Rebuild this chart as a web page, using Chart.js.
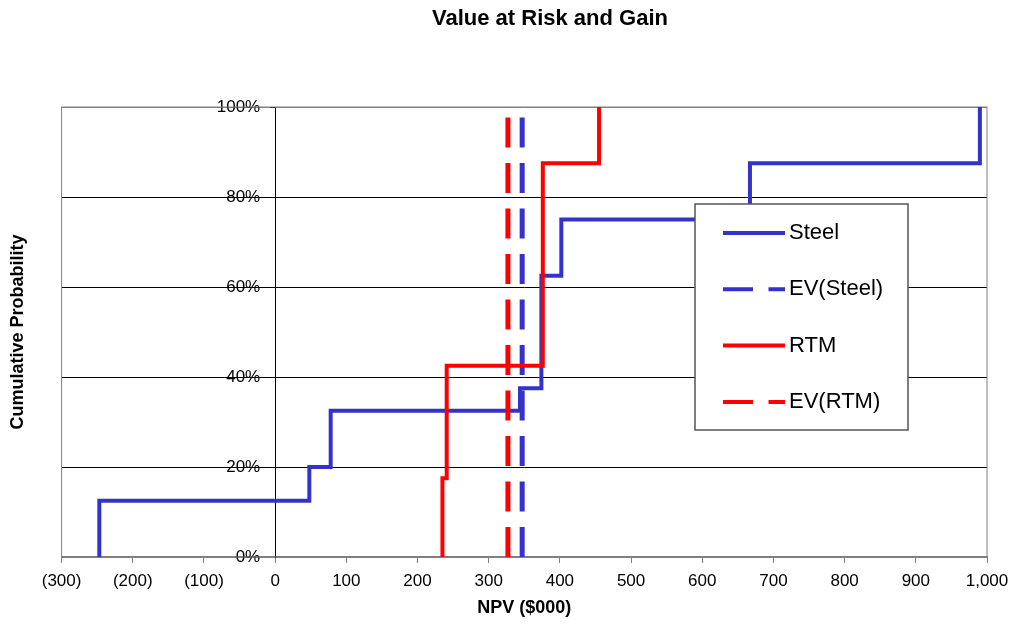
<!DOCTYPE html>
<html>
<head>
<meta charset="utf-8">
<title>Value at Risk and Gain</title>
<script src="https://cdn.jsdelivr.net/npm/chart.js@4.4.1/dist/chart.umd.min.js"></script>
<style>
  body { margin: 0; background: #fff; }
  #wrap { width: 1011px; height: 629px; }
</style>
</head>
<body>
<div id="wrap"><canvas id="myChart"></canvas></div>
<script>
// step points: NPV ($000) and cumulative probability (%)
var steelNpv  = [-247, -247, 48, 78, 344, 374, 402, 667, 990];
var steelProb = [0, 12.5, 20, 32.5, 37.5, 62.5, 75, 87.5, 100];

var rtmNpv  = [235, 235, 241, 376, 455];
var rtmProb = [0, 17.5, 42.5, 87.5, 100];

// expected values, drawn as vertical dashed lines
var evSteel = 347;
var evRtm = 327;
var evProb = [0, 98];

var seriesNames = ['Steel', 'EV(Steel)', 'RTM', 'EV(RTM)'];

var blue = '#3333CC';
var red = '#FF0000';

function toPoints(xs, ys) {
    return ys.map(function (y, i) {
        return { x: Array.isArray(xs) ? xs[i] : xs, y: y };
    });
}

function npvLabel(v) {
    var s = Math.abs(v).toLocaleString('en-US');
    return v < 0 ? '(' + s + ')' : s;
}

// chart title, centred a bit right of the canvas middle like the original
var chartTitle = {
    id: 'chartTitle',
    afterDraw: function (chart, args, opts) {
        var ctx = chart.ctx;
        ctx.save();
        ctx.font = 'bold 22px "Liberation Sans", Arial, sans-serif';
        ctx.fillStyle = '#000';
        ctx.textAlign = 'center';
        ctx.textBaseline = 'middle';
        ctx.fillText(opts.text, opts.x, opts.y);
        ctx.restore();
    }
};

// grey frame round the plot area
var plotFrame = {
    id: 'plotFrame',
    beforeDatasetsDraw: function (chart) {
        var a = chart.chartArea, ctx = chart.ctx;
        ctx.save();
        ctx.strokeStyle = '#808080';
        ctx.lineWidth = 1;
        ctx.strokeRect(a.left, a.top, a.right - a.left, a.bottom - a.top);
        ctx.restore();
    }
};

// boxed legend sitting inside the plot, as in the picture
var boxLegend = {
    id: 'boxLegend',
    afterDatasetsDraw: function (chart, args, opts) {
        var ctx = chart.ctx;
        ctx.save();
        ctx.fillStyle = '#fff';
        ctx.fillRect(opts.left, opts.top, opts.width, opts.height);
        ctx.strokeStyle = '#555';
        ctx.lineWidth = 1.5;
        ctx.strokeRect(opts.left, opts.top, opts.width, opts.height);
        ctx.font = '22px "Liberation Sans", Arial, sans-serif';
        ctx.textBaseline = 'middle';
        chart.data.datasets.forEach(function (ds, i) {
            var y = opts.top + opts.firstRow + i * opts.rowGap;
            ctx.beginPath();
            ctx.strokeStyle = ds.borderColor;
            ctx.lineWidth = 4;
            ctx.setLineDash(ds.borderDash || []);
            ctx.moveTo(opts.left + 28, y);
            ctx.lineTo(opts.left + 90, y);
            ctx.stroke();
            ctx.setLineDash([]);
            ctx.fillStyle = '#000';
            ctx.fillText(ds.label, opts.left + 94, y);
        });
        ctx.restore();
    }
};

Chart.defaults.font.family = '"Liberation Sans", Arial, sans-serif';
Chart.defaults.color = '#000';

var ctx = document.getElementById('myChart').getContext('2d');
var myChart = new Chart(ctx, {
    type: 'line',
    data: {
        datasets: [{
            label: seriesNames[0],
            data: toPoints(steelNpv, steelProb),
            borderColor: blue,
            borderWidth: 4,
            stepped: 'before',
            pointRadius: 0,
            yAxisID: 'y',
            order: 3
        }, {
            label: seriesNames[1],
            data: toPoints(evSteel, evProb),
            borderColor: blue,
            borderWidth: 5,
            borderDash: [30, 15.5],
            borderCapStyle: 'butt',
            pointRadius: 0,
            yAxisID: 'y',
            order: 2
        }, {
            label: seriesNames[2],
            data: toPoints(rtmNpv, rtmProb),
            borderColor: red,
            borderWidth: 4,
            stepped: 'before',
            pointRadius: 0,
            yAxisID: 'y',
            order: 0
        }, {
            label: seriesNames[3],
            data: toPoints(evRtm, evProb),
            borderColor: red,
            borderWidth: 5,
            borderDash: [30, 15.5],
            borderCapStyle: 'butt',
            pointRadius: 0,
            yAxisID: 'y',
            order: 1
        }]
    },
    options: {
        responsive: true,
        maintainAspectRatio: false,
        animation: false,
        layout: { padding: { top: 107, right: 24 } },
        scales: {
            x: {
                type: 'linear',
                position: 'bottom',
                min: -300,
                max: 1000,
                // let the "1,000" label hang into the right margin
                afterFit: function (scale) { scale.paddingRight = 0; },
                ticks: {
                    stepSize: 100,
                    padding: 9.5,
                    maxRotation: 0,
                    autoSkip: false,
                    font: { size: 17, lineHeight: 1 },
                    callback: npvLabel
                },
                grid: { drawOnChartArea: false, color: '#808080', tickLength: 6 },
                border: { color: '#808080', width: 2 },
                title: {
                    display: true,
                    text: 'NPV ($000)',
                    font: { size: 18, weight: 'bold', lineHeight: 1 },
                    padding: { top: 0, bottom: 12 }
                }
            },
            // axis line, grid and tick marks cross at NPV = 0
            y: {
                type: 'linear',
                position: { x: 0 },
                min: 0,
                max: 100,
                ticks: { stepSize: 20, display: false },
                grid: {
                    color: function (c) {
                        var v = c.tick ? c.tick.value : null;
                        return (v === 0 || v === 100) ? '#808080' : '#000';
                    },
                    tickColor: '#000',
                    tickLength: 5
                },
                border: { color: '#000', width: 1 }
            },
            // percent labels, set just left of the NPV = 0 axis
            yLabels: {
                type: 'linear',
                position: { x: -21 },
                min: 0,
                max: 100,
                ticks: {
                    stepSize: 20,
                    font: { size: 17 },
                    callback: function (v) { return v + '%'; }
                },
                grid: { display: false },
                border: { display: false }
            },
            yTitle: {
                type: 'linear',
                position: 'left',
                min: 0,
                max: 1,
                grid: { display: false, drawTicks: false },
                border: { display: false },
                ticks: { display: false },
                title: {
                    display: true,
                    text: 'Cumulative Probability',
                    font: { size: 18, weight: 'bold' },
                    padding: { top: 7, bottom: 33 }
                }
            }
        },
        plugins: {
            title: { display: false },
            legend: { display: false },
            tooltip: { enabled: false },
            chartTitle: { text: 'Value at Risk and Gain', x: 550, y: 19 },
            boxLegend: { left: 695, top: 204, width: 213, height: 226, firstRow: 29, rowGap: 56.3 }
        }
    },
    plugins: [chartTitle, plotFrame, boxLegend]
});
</script>
</body>
</html>
